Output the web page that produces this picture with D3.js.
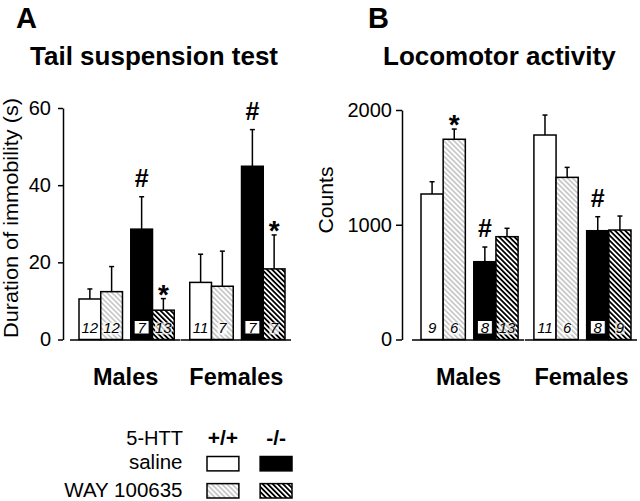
<!DOCTYPE html>
<html><head><meta charset="utf-8">
<script src="https://cdn.jsdelivr.net/npm/d3@7"></script>
<style>
html,body{margin:0;padding:0;background:#fff;}
svg{display:block;font-family:"Liberation Sans",Arial,sans-serif;}
</style></head>
<body><svg id="c" width="640" height="501"></svg>
<script>
// ---- data ----
const groups = ["Males", "Females"];
const genotypes = ["+/+", "-/-"];
const treatments = ["saline", "WAY 100635"];

const tailMeansMales   = [10.5, 12.4, 28.6, 7.6];
const tailErrMales     = [2.6, 6.5, 8.4, 3.0];
const tailNMales       = [12, 12, 7, 13];
const tailMeansFemales = [14.8, 13.8, 44.9, 18.3];
const tailErrFemales   = [7.3, 9.1, 9.5, 8.8];
const tailNFemales     = [11, 7, 7, 7];
const tailTicks = [0, 20, 40, 60];
const tailSig = [["Males", 2, "#"], ["Males", 3, "*"], ["Females", 2, "#"], ["Females", 3, "*"]];

const locoMeansMales   = [1268, 1745, 678, 896];
const locoErrMales     = [107, 89, 128, 73];
const locoNMales       = [9, 6, 8, 13];
const locoMeansFemales = [1782, 1413, 948, 954];
const locoErrFemales   = [174, 87, 122, 122];
const locoNFemales     = [11, 6, 8, 9];
const locoTicks = [0, 1000, 2000];
const locoSig = [["Males", 1, "*"], ["Males", 2, "#"], ["Females", 2, "#"]];

// ---- drawing ----
const svg = d3.select("#c");
const defs = svg.append("defs");
function hatch(id, color, sw) {
  const p = defs.append("pattern").attr("id", id).attr("patternUnits", "userSpaceOnUse")
    .attr("width", 3.6).attr("height", 3.6).attr("patternTransform", "rotate(-45)");
  p.append("rect").attr("width", 3.6).attr("height", 3.6).attr("fill", "#fff");
  p.append("line").attr("x1", 1.8).attr("x2", 1.8).attr("y1", 0).attr("y2", 3.6)
    .attr("stroke", color).attr("stroke-width", sw);
}
hatch("light", "#a8a8a8", 1.1);
hatch("dense", "#000", 1.8);
const fills = ["#fff", "url(#light)", "#000", "url(#dense)"];

function rows(means, errs, ns, group) {
  return means.map((m, i) => ({ group, geno: genotypes[Math.floor(i / 2)], treat: treatments[i % 2],
    idx: i, mean: m, err: errs[i], n: ns[i] }));
}

function panel(cfg) {
  const g = svg.append("g");
  const y = d3.scaleLinear().domain(cfg.domain).range([339.5, cfg.yTop]);
  const gx = d3.scaleBand().domain(groups).range(cfg.xRange).paddingInner(0.14);
  const genoX = d3.scaleBand().domain(genotypes).range([0, gx.bandwidth()]).paddingInner(0.16);
  const trX = d3.scaleBand().domain(treatments).range([0, genoX.bandwidth()]);
  const bx = d => gx(d.group) + genoX(d.geno) + trX(d.treat);
  const bw = trX.bandwidth();

  // axis
  const ax = g.append("g").attr("transform", `translate(${cfg.axisX},0)`)
    .call(d3.axisLeft(y).tickValues(cfg.ticks).tickFormat(d3.format("d")).tickSize(cfg.tickSize)
      .tickPadding(cfg.tickPad).tickSizeOuter(0));
  ax.select(".domain").attr("stroke-width", 1.5);
  ax.selectAll(".tick line").attr("stroke-width", 1.5);
  ax.selectAll(".tick text").attr("font-size", 20).attr("font-family", "Liberation Sans, Arial, sans-serif").attr("fill", "#000");

  // baselines
  groups.forEach(gr => {
    g.append("line").attr("x1", gx(gr) - 9).attr("x2", gx(gr) + gx.bandwidth() + 6)
      .attr("y1", y(0) + 0.5).attr("y2", y(0) + 0.5).attr("stroke", "#000").attr("stroke-width", 1.6);
  });

  const data = cfg.data;
  // error bars
  data.forEach(d => {
    const cx = bx(d) + bw / 2;
    g.append("line").attr("x1", cx).attr("x2", cx).attr("y1", y(d.mean)).attr("y2", y(d.mean + d.err))
      .attr("stroke", "#000").attr("stroke-width", 1.5);
    g.append("line").attr("x1", cx - 2.5).attr("x2", cx + 2.5).attr("y1", y(d.mean + d.err)).attr("y2", y(d.mean + d.err))
      .attr("stroke", "#000").attr("stroke-width", 1.5);
  });
  // bars
  g.selectAll("rect.bar").data(data).join("rect").attr("class", "bar")
    .attr("x", d => bx(d)).attr("width", bw)
    .attr("y", d => y(d.mean)).attr("height", d => y(0) - y(d.mean))
    .attr("fill", d => fills[d.idx]).attr("stroke", "#000").attr("stroke-width", 1.5);
  // n labels
  data.forEach(d => {
    const cx = bx(d) + bw / 2;
    const txt = String(d.n);
    if (d.idx === 2) {
      g.append("rect").attr("x", cx - 7.5).attr("y", y(0) - 19).attr("width", 15).attr("height", 13.5)
        .attr("fill", "#fff").attr("stroke", "#000").attr("stroke-width", 1);
    } else if (d.idx !== 0) {
      const w = txt.length * 7.5 + 2;
      g.append("rect").attr("x", cx - w / 2).attr("y", y(0) - 17).attr("width", w).attr("height", 12)
        .attr("fill", "#fff").attr("opacity", 0.75);
    }
    g.append("text").attr("x", cx).attr("y", y(0) - 7).attr("text-anchor", "middle")
      .attr("font-size", 15).attr("font-style", "italic").attr("fill", "#000").text(txt);
  });
  // significance marks
  cfg.sig.forEach(([gr, i, sym]) => {
    const d = data.find(r => r.group === gr && r.idx === i);
    const cx = bx(d) + bw / 2;
    const top = y(d.mean + d.err);
    g.append("text").attr("x", cx).attr("y", sym === "#" ? top - 10 : top + 5)
      .attr("text-anchor", "middle").attr("font-size", sym === "#" ? 25 : 28)
      .attr("font-weight", "bold").attr("fill", "#000").text(sym);
  });
  // group labels
  groups.forEach(gr => {
    g.append("text").attr("x", gx(gr) + gx.bandwidth() / 2 - 1).attr("y", 385)
      .attr("text-anchor", "middle").attr("font-size", 23.5).attr("font-weight", "bold").text(gr);
  });
  // y label
  g.append("text").attr("transform", `translate(${cfg.ylabX},${cfg.ylabY}) rotate(-90)`)
    .attr("text-anchor", "middle").attr("font-size", 20).attr("textLength", cfg.ylabLen)
    .attr("lengthAdjust", "spacingAndGlyphs").text(cfg.ylab);
  // panel letter & title
  g.append("text").attr("x", cfg.letterX).attr("y", 27.5).attr("font-size", 29).attr("font-weight", "bold").text(cfg.letter);
  g.append("text").attr("x", cfg.titleX).attr("y", 65).attr("font-size", 26).attr("font-weight", "bold").text(cfg.title);
}

panel({
  domain: [0, 60], yTop: 108, xRange: [79, 285], axisX: 63, ticks: tailTicks, tickSize: 5, tickPad: 7,
  data: rows(tailMeansMales, tailErrMales, tailNMales, "Males").concat(rows(tailMeansFemales, tailErrFemales, tailNFemales, "Females")),
  sig: tailSig, ylab: "Duration of immobility (s)", ylabX: 18, ylabY: 218, ylabLen: 240,
  letter: "A", letterX: 16, title: "Tail suspension test", titleX: 30
});
panel({
  domain: [0, 2000], yTop: 110, xRange: [421, 631], axisX: 402, ticks: locoTicks, tickSize: 6, tickPad: 4,
  data: rows(locoMeansMales, locoErrMales, locoNMales, "Males").concat(rows(locoMeansFemales, locoErrFemales, locoNFemales, "Females")),
  sig: locoSig, ylab: "Counts", ylabX: 333, ylabY: 200, ylabLen: 67,
  letter: "B", letterX: 368, title: "Locomotor activity", titleX: 383
});

// legend
const lg = svg.append("g").attr("font-size", 20.5).attr("fill", "#000");
lg.append("text").attr("x", 183).attr("y", 445).attr("text-anchor", "end").attr("font-size", 20).text("5-HTT");
const legX = d3.scaleBand().domain(genotypes).range([207, 292]).paddingInner(0.4);
const legY = d3.scaleBand().domain(treatments).range([456.5, 498]).paddingInner(0.47);
genotypes.forEach(gt => {
  lg.append("text").attr("x", legX(gt) + legX.bandwidth() / 2).attr("y", 445).attr("text-anchor", "middle")
    .attr("font-weight", "bold").attr("font-size", 21).text(gt);
});
treatments.forEach((tr, ti) => {
  lg.append("text").attr("x", 182.5).attr("y", legY(tr) + legY.bandwidth() - 1.5).attr("text-anchor", "end").text(tr);
  genotypes.forEach((gt, gi) => {
    lg.append("rect").attr("x", legX(gt)).attr("y", legY(tr)).attr("width", legX.bandwidth()).attr("height", legY.bandwidth())
      .attr("fill", fills[gi * 2 + ti]).attr("stroke", "#000").attr("stroke-width", 1.5);
  });
});
</script></body></html>
